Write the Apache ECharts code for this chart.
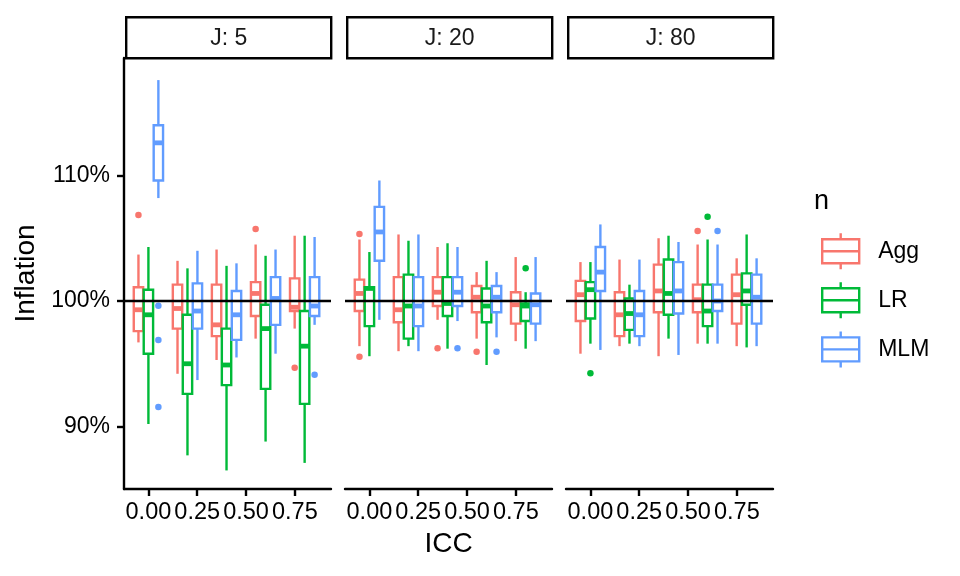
<!DOCTYPE html>
<html>
<head>
<meta charset="utf-8">
<script src="https://cdn.jsdelivr.net/npm/echarts@6/dist/echarts.min.js"></script>
<style>
  html, body { margin: 0; padding: 0; background: #fff; }
  #main { width: 960px; height: 576px; }
</style>
</head>
<body>
<div id="main"></div>
<script>
// ICC levels on the x axis, one facet per J
var iccValues = [0, 0.2, 0.4, 0.6, 0.8];
var panels = ['J: 5', 'J: 20', 'J: 80'];
var groups = ['Agg', 'LR', 'MLM'];
var colors = ['#F8766D', '#00BA38', '#619CFF'];
var xTicks = [0, 0.25, 0.5, 0.75];
var yTicks = [90, 100, 110];

// boxes: [lower whisker, Q1, median, Q3, upper whisker] per ICC level (in %)
var boxJ5Agg = [[96.7, 97.6, 99.3, 101.1, 103.7], [94.2, 97.8, 99.4, 101.3, 103.2], [95.3, 97.2, 98.1, 101.3, 104.1], [97.0, 98.8, 100.6, 101.5, 104.5], [97.8, 99.2, 99.5, 101.8, 105.2]];
var boxJ5LR = [[90.2, 95.8, 98.9, 100.9, 104.3], [87.7, 92.6, 95.0, 98.9, 102.6], [86.5, 93.3, 94.9, 97.8, 102.8], [88.8, 93.0, 97.8, 99.7, 103.6], [87.1, 91.8, 96.4, 99.2, 105.2]];
var boxJ5MLM = [[108.2, 109.6, 112.6, 114.0, 117.6], [93.7, 97.8, 99.2, 101.4, 104.0], [95.5, 96.9, 98.9, 100.8, 103.0], [95.8, 98.1, 100.2, 101.9, 104.1], [98.1, 98.8, 99.6, 101.9, 105.1]];

var boxJ20Agg = [[96.4, 99.2, 100.6, 101.7, 104.9], [96.0, 98.3, 99.3, 101.9, 105.3], [98.5, 99.6, 100.7, 101.9, 104.3], [97.0, 99.1, 100.3, 101.2, 102.3], [96.8, 98.2, 99.7, 100.7, 103.5]];
var boxJ20LR = [[95.6, 98.0, 101.0, 101.1, 103.9], [96.4, 97.0, 99.6, 102.1, 104.8], [96.2, 98.8, 99.8, 101.9, 104.6], [94.9, 98.3, 99.6, 101.0, 103.2], [96.2, 98.4, 99.6, 99.8, 100.7]];
var boxJ20MLM = [[98.5, 103.2, 105.5, 107.5, 109.6], [96.0, 98.0, 99.6, 101.9, 105.3], [98.4, 99.6, 100.7, 101.9, 104.3], [97.1, 99.1, 100.3, 101.2, 102.3], [96.8, 98.2, 99.7, 100.6, 103.5]];

var boxJ80Agg = [[95.8, 98.4, 100.5, 101.6, 103.1], [96.4, 97.2, 98.9, 100.7, 103.3], [95.6, 99.1, 100.8, 102.9, 105.0], [96.6, 99.1, 100.1, 101.3, 104.5], [96.4, 98.2, 100.5, 102.1, 103.4]];
var boxJ80LR = [[96.6, 98.6, 100.9, 101.5, 103.1], [96.6, 97.7, 99.0, 100.2, 101.3], [97.0, 98.9, 100.6, 103.3, 105.2], [96.6, 98.0, 99.2, 101.3, 104.9], [96.3, 99.7, 100.8, 102.2, 105.3]];
var boxJ80MLM = [[96.1, 100.8, 102.3, 104.3, 106.1], [96.4, 97.2, 98.9, 100.8, 103.3], [95.7, 99.0, 100.8, 103.1, 104.7], [96.6, 99.2, 100.0, 101.3, 104.5], [96.4, 98.2, 100.3, 102.1, 103.4]];

// outliers: [ICC, value]
var outJ5Agg = [[0, 106.85], [0.6, 105.74], [0.8, 94.69]];
var outJ5LR = [];
var outJ5MLM = [[0, 99.63], [0, 96.9], [0, 91.55], [0.8, 94.13]];
var outJ20Agg = [[0, 105.34], [0, 95.56], [0.4, 96.23], [0.6, 95.96]];
var outJ20LR = [[0.8, 102.61]];
var outJ20MLM = [[0.4, 96.23], [0.6, 95.96]];
var outJ80Agg = [[0.6, 105.58]];
var outJ80LR = [[0, 94.24], [0.6, 106.72]];
var outJ80MLM = [[0.6, 105.58]];

var boxes = [[boxJ5Agg, boxJ5LR, boxJ5MLM], [boxJ20Agg, boxJ20LR, boxJ20MLM], [boxJ80Agg, boxJ80LR, boxJ80MLM]];
var outliers = [[outJ5Agg, outJ5LR, outJ5MLM], [outJ20Agg, outJ20LR, outJ20MLM], [outJ80Agg, outJ80LR, outJ80MLM]];

var font = '"Liberation Sans", Arial, Helvetica, sans-serif';
var dodge = [-0.051, 0, 0.051];
var boxWidth = 0.048;
var gridLefts = [124, 345, 566];
var gridWidth = 207;
var gridTop = 58;
var gridHeight = 431;
var lw = 2.4;

function renderBox(params, api) {
    var x = api.value(0);
    var half = api.size([boxWidth, 0])[0] / 2;
    var lo = api.coord([x, api.value(1)]);
    var q1 = api.coord([x, api.value(2)]);
    var md = api.coord([x, api.value(3)]);
    var q3 = api.coord([x, api.value(4)]);
    var hi = api.coord([x, api.value(5)]);
    var color = api.visual('color');
    return {
        type: 'group',
        children: [
            { type: 'line', shape: { x1: hi[0], y1: hi[1], x2: q3[0], y2: q3[1] }, style: { stroke: color, lineWidth: lw } },
            { type: 'line', shape: { x1: q1[0], y1: q1[1], x2: lo[0], y2: lo[1] }, style: { stroke: color, lineWidth: lw } },
            { type: 'rect', shape: { x: q3[0] - half, y: q3[1], width: half * 2, height: q1[1] - q3[1] }, style: { fill: '#fff', stroke: color, lineWidth: lw } },
            { type: 'line', shape: { x1: md[0] - half, y1: md[1], x2: md[0] + half, y2: md[1] }, style: { stroke: color, lineWidth: lw * 2 } }
        ]
    };
}

var grids = [], xAxes = [], yAxes = [], series = [], graphics = [];

panels.forEach(function (p, pi) {
    grids.push({ left: gridLefts[pi], top: gridTop, width: gridWidth, height: gridHeight });
    xAxes.push({
        type: 'value', gridIndex: pi, min: -0.125, max: 0.935,
        name: pi === 1 ? 'ICC' : '', nameLocation: 'middle', nameGap: 40,
        nameTextStyle: { fontSize: 28, color: '#000', fontFamily: font },
        axisLine: { show: true, onZero: false, lineStyle: { color: '#000', width: lw } },
        axisTick: { show: true, length: 7, lineStyle: { color: '#000', width: lw }, customValues: xTicks },
        axisLabel: { show: true, fontSize: 23.5, color: '#000', fontFamily: font, margin: 12, customValues: xTicks,
            formatter: function (v) { return v.toFixed(2); } },
        splitLine: { show: false }
    });
    yAxes.push({
        type: 'value', gridIndex: pi, min: 85.02, max: 119.36,
        name: pi === 0 ? 'Inflation' : '', nameLocation: 'middle', nameGap: 84, nameRotate: 90,
        nameTextStyle: { fontSize: 28, color: '#000', fontFamily: font },
        axisLine: { show: pi === 0, onZero: false, lineStyle: { color: '#000', width: lw } },
        axisTick: { show: pi === 0, length: 7, lineStyle: { color: '#000', width: lw }, customValues: yTicks },
        axisLabel: { show: pi === 0, fontSize: 23, color: '#000', fontFamily: font, margin: 14, customValues: yTicks,
            formatter: function (v) { return v + '%'; } },
        splitLine: { show: false }
    });

    groups.forEach(function (g, gi) {
        series.push({
            name: g, type: 'custom', xAxisIndex: pi, yAxisIndex: pi,
            itemStyle: { color: colors[gi] },
            renderItem: renderBox,
            encode: { x: 0, y: [1, 2, 3, 4, 5] },
            data: iccValues.map(function (icc, i) {
                return [icc + dodge[gi]].concat(boxes[pi][gi][i]);
            }),
            silent: true, z: 2
        });
        series.push({
            name: g, type: 'scatter', xAxisIndex: pi, yAxisIndex: pi,
            symbolSize: 6.5, itemStyle: { color: colors[gi], opacity: 1 },
            data: outliers[pi][gi].map(function (d) { return [d[0] + dodge[gi], d[1]]; }),
            silent: true, z: 3
        });
    });
    // reference line at 100%
    series.push({
        type: 'line', xAxisIndex: pi, yAxisIndex: pi, data: [], z: 5, silent: true,
        markLine: {
            silent: true, symbol: ['none', 'none'], label: { show: false },
            lineStyle: { color: '#000', width: lw, type: 'solid' },
            emphasis: { disabled: true },
            data: [{ yAxis: 100 }]
        }
    });

    // facet strip
    graphics.push({
        type: 'group', left: gridLefts[pi] + 1, top: 16,
        children: [
            { type: 'rect', shape: { x: 0, y: 0, width: gridWidth - 2, height: 41 }, style: { fill: '#fff', stroke: '#000', lineWidth: lw } },
            { type: 'text', x: (gridWidth - 2) / 2, y: 21, style: { text: p, fontSize: 23, fill: '#1a1a1a', fontFamily: font, align: 'center', verticalAlign: 'middle' } }
        ]
    });
});

var keyPath = 'path://M0,6L0,30L37,30L37,6ZM0,18L37,18M18.5,0L18.5,6M18.5,30L18.5,36';

var option = {
    backgroundColor: '#fff',
    animation: false,
    title: {
        text: 'n', left: 814, top: 188, padding: 0,
        textStyle: { fontSize: 27, fontWeight: 'normal', color: '#000', fontFamily: font }
    },
    legend: {
        orient: 'vertical', left: 821, top: 232, padding: 0,
        itemWidth: 37, itemHeight: 36, itemGap: 10.7,
        selectedMode: false,
        textStyle: { fontSize: 23, color: '#000', fontFamily: font, padding: [0, 0, 0, 14] },
        data: groups.map(function (g, gi) {
            return { name: g, icon: keyPath, itemStyle: { color: 'transparent', borderColor: colors[gi], borderWidth: lw } };
        })
    },
    grid: grids,
    xAxis: xAxes,
    yAxis: yAxes,
    series: series,
    graphic: graphics
};

var chart = echarts.init(document.getElementById('main'));
chart.setOption(option);
</script>
</body>
</html>
